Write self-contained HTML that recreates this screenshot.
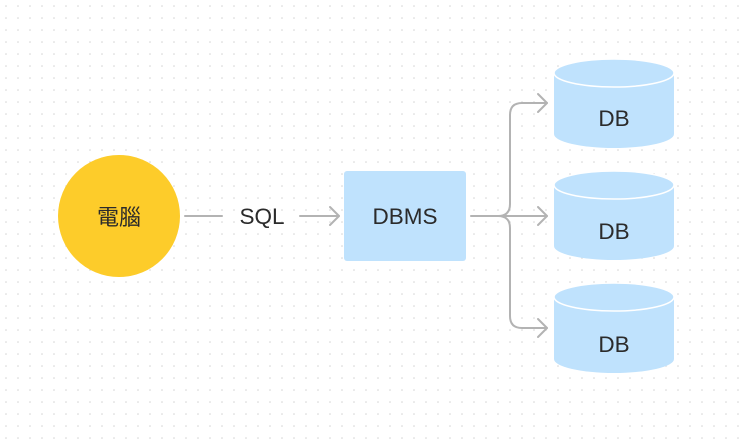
<!DOCTYPE html>
<html><head><meta charset="utf-8"><style>
html,body{margin:0;padding:0;background:#fff}
svg{display:block}
text{font-family:"Liberation Sans","Noto Sans CJK TC",sans-serif;fill:#2b2b2b}
</style></head><body>
<svg width="742" height="446" viewBox="0 0 742 446" xmlns="http://www.w3.org/2000/svg">
<defs><pattern id="g" width="12" height="12" patternUnits="userSpaceOnUse"><circle cx="6" cy="6" r="0.8" fill="#d4d4d4"/></pattern></defs>
<rect width="742" height="446" fill="url(#g)"/>
<circle cx="119" cy="216" r="61" fill="#fdcc2a"/>
<text x="119" y="225" font-size="22" text-anchor="middle">電腦</text>
<g stroke="#b3b3b3" stroke-width="2" fill="none" stroke-linecap="round" stroke-linejoin="round">
<line x1="185" y1="216" x2="222" y2="216"/>
<line x1="300" y1="216" x2="339" y2="216"/>
<polyline points="330,207 339,216 330,225"/>
<line x1="471" y1="216" x2="547" y2="216"/>
<path d="M498,216 Q510,216 510,204 V115 Q510,103 522,103 H547"/>
<path d="M498,216 Q510,216 510,228 V316 Q510,328 522,328 H547"/>
<polyline points="538,94 547,103 538,112"/>
<polyline points="538,207 547,216 538,225"/>
<polyline points="538,319 547,328 538,337"/>
</g>
<text x="262" y="224" font-size="22.5" text-anchor="middle">SQL</text>
<rect x="344" y="171" width="122" height="90" rx="3" fill="#bfe2fd"/>
<text x="405" y="224" font-size="22.5" text-anchor="middle">DBMS</text>
<g fill="#bfe2fd">
<path d="M554,73 V134 A60,14 0 0 0 674,134 V73 Z"/><ellipse cx="614" cy="73" rx="60" ry="14" stroke="#fff" stroke-width="1.5"/>
<path d="M554,185 V246 A60,14 0 0 0 674,246 V185 Z"/><ellipse cx="614" cy="185" rx="60" ry="14" stroke="#fff" stroke-width="1.5"/>
<path d="M554,297 V359 A60,14 0 0 0 674,359 V297 Z"/><ellipse cx="614" cy="297" rx="60" ry="14" stroke="#fff" stroke-width="1.5"/>
</g>
<text x="614" y="126" font-size="22.5" text-anchor="middle">DB</text>
<text x="614" y="239" font-size="22.5" text-anchor="middle">DB</text>
<text x="614" y="352" font-size="22.5" text-anchor="middle">DB</text>
</svg>
</body></html>
